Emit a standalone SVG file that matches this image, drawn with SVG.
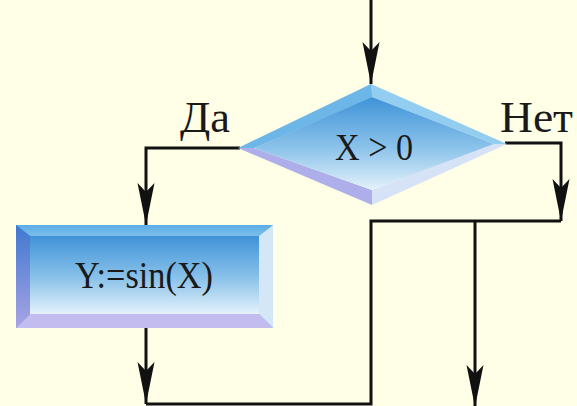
<svg xmlns="http://www.w3.org/2000/svg" width="577" height="406" viewBox="0 0 577 406">
<defs>
<style>
.ln{fill:none;stroke:#111;stroke-width:3}
.arr{marker-end:url(#ah)}
.t{font-family:"Liberation Serif","Times New Roman",serif;fill:#1a1a1a}
.lbl{font-size:44px}
.nt{font-size:38px}
</style>
<marker id="ah" markerUnits="userSpaceOnUse" viewBox="-44 -10 46 20" refX="0" refY="0" markerWidth="46" markerHeight="20" orient="auto">
<path d="M0,0 L-42,-8.5 L-33,0 L-42,8.5 Z" fill="#111"/>
</marker>
<linearGradient id="gIn" x1="0" y1="0" x2="0" y2="1">
<stop offset="0" stop-color="#3f93d8"/>
<stop offset="0.55" stop-color="#8cc3ea"/>
<stop offset="1" stop-color="#e4f2fb"/>
</linearGradient>
<linearGradient id="gTop" x1="0" y1="0" x2="0" y2="1">
<stop offset="0" stop-color="#5aaee6"/>
<stop offset="1" stop-color="#7cbde9"/>
</linearGradient>
<linearGradient id="gLeft" x1="0" y1="0" x2="0" y2="1">
<stop offset="0" stop-color="#3f78cf"/>
<stop offset="1" stop-color="#a9a4e4"/>
</linearGradient>
</defs>
<rect width="577" height="406" fill="#fffee6"/>

<g id="connectors">
<path class="ln arr" d="M371,0 V84"/>
<path class="ln arr" d="M240,148 H146 V225"/>
<path class="ln arr" d="M505,143 H561 V221"/>
<path class="ln arr" d="M146,328 V404"/>
<path class="ln" d="M561,221 H371 V404 H146"/>
<path class="ln arr" d="M475,221 V407"/>
</g>

<g id="decision">
<polygon points="371,84 254,148 372,97" fill="#5aaae4"/>
<polygon points="371,84 507,144 494,144 372,97" fill="#93cdf0"/>
<polygon points="507,144 372,205 372,190 494,144" fill="#d6e2f6"/>
<polygon points="238,148 254,148 372,190 372,205" fill="#aeaeea"/>
<polygon points="238,148 371,84 372,97 254,148" fill="#6db6e8"/>
<polygon points="372,97 494,144 372,190 254,148" fill="url(#gIn)"/>
<text class="t nt" x="374" y="160" text-anchor="middle" textLength="78" lengthAdjust="spacingAndGlyphs">X &gt; 0</text>
</g>

<g id="process">
<rect x="16" y="225" width="257" height="103" fill="#4d98d8"/>
<polygon points="16,225 273,225 259,236 30,236" fill="url(#gTop)"/>
<polygon points="16,225 30,236 30,314 16,328" fill="url(#gLeft)"/>
<polygon points="16,328 30,314 259,314 273,328" fill="#c3bcee"/>
<polygon points="273,225 273,328 259,314 259,236" fill="#d4e7f7"/>
<rect x="30" y="236" width="229" height="78" fill="url(#gIn)"/>
<text class="t nt" x="144" y="288" text-anchor="middle" textLength="138" lengthAdjust="spacingAndGlyphs">Y:=sin(X)</text>
</g>

<g id="labels">
<text class="t lbl" x="180" y="132" textLength="50" lengthAdjust="spacingAndGlyphs">Да</text>
<text class="t lbl" x="500" y="132" textLength="73" lengthAdjust="spacingAndGlyphs">Нет</text>
</g>
</svg>
